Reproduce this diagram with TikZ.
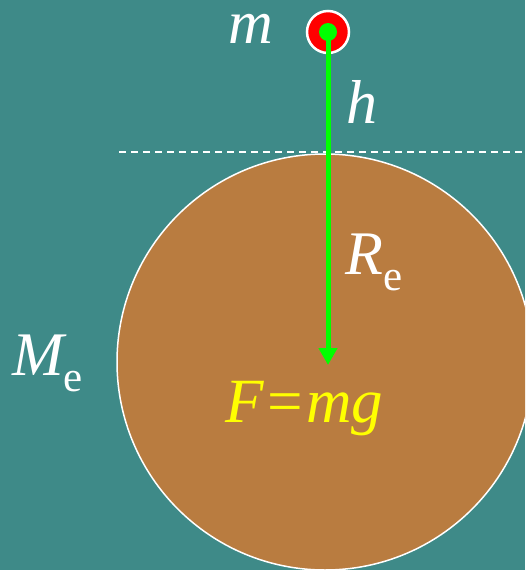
\documentclass[tikz,border=0pt]{standalone}
\usepackage{fontspec}
\setmainfont{Liberation Serif}
\usetikzlibrary{arrows.meta}
\definecolor{bgteal}{RGB}{62,138,136}
\definecolor{earthbrown}{RGB}{185,124,64}
\definecolor{arrowgreen}{RGB}{0,255,0}
\definecolor{ballred}{RGB}{255,0,0}
\definecolor{labelyellow}{RGB}{255,255,0}
\tikzset{
  lbl/.style={text=white, font=\fontsize{62}{62}\selectfont\itshape, inner sep=0pt, anchor=base west},
  earthdisc/.style={circle, fill=earthbrown, draw=white, line width=1.5pt, minimum size=416pt, inner sep=0pt},
  balldisc/.style={circle, fill=ballred, draw=white, line width=2.5pt, minimum size=42pt, inner sep=0pt},
  dotdisc/.style={circle, fill=arrowgreen, minimum size=18pt, inner sep=0pt},
  greenarrow/.style={draw=arrowgreen, line width=5pt, -{Triangle[width=18pt,length=17pt]}},
  levelline/.style={draw=white, line width=1.5pt, dash pattern=on 7pt off 5pt}
}
\newcommand{\subE}{\raisebox{-16pt}{\upshape\fontsize{43}{43}\selectfont e}}
\begin{document}
\begin{tikzpicture}[x=1pt,y=-1pt]
  \useasboundingbox (0,0) rectangle (525,570);
  \clip (0,0) rectangle (525,570);
  \fill[bgteal] (0,0) rectangle (525,570);
  % level line at height of Earth's surface
  \coordinate (lvlA) at (119,152);
  \coordinate (lvlB) at (525,152);
  \draw[levelline] (lvlA) -- (lvlB);
  % Earth
  \node[earthdisc] (earth) at (325,362) {};
  % mass
  \node[balldisc] (ball) at (328,32) {};
  \coordinate (tip) at (328,365);
  \draw[greenarrow] (ball.center) -- (tip);
  \node[dotdisc] (dot) at (ball.center) {};
  % labels
  \node[lbl] (m) at (228,43) {m};
  \node[lbl] (h) at (346,123) {h};
  \node[lbl] (Re) at (345,274) {R\subE};
  \node[lbl] (Me) at (12,375) {M\subE};
  \node[lbl, text=labelyellow, font=\fontsize{63}{63}\selectfont\itshape] (F) at (225,422) {F=mg};
\end{tikzpicture}
\end{document}
